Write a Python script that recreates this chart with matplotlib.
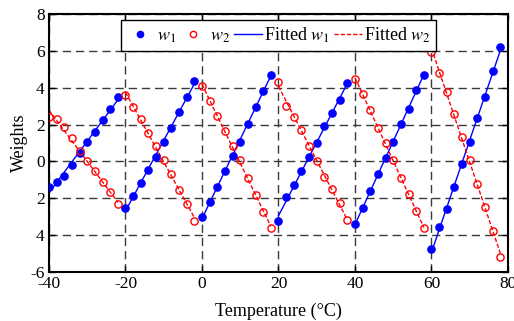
import numpy as np
import matplotlib
matplotlib.use('Agg')
import matplotlib.pyplot as plt
from matplotlib.legend_handler import HandlerLine2D

plt.rcParams['font.family'] = ['Liberation Serif', 'DejaVu Serif']
plt.rcParams['mathtext.fontset'] = 'stix'
plt.rcParams['axes.unicode_minus'] = False

# 資料 (每段 20°C, 每 2°C 一點)
temp = np.arange(-40, 80, 2)
w1 = [-1.37, -1.13, -0.77, -0.21, 0.45, 1.05, 1.60, 2.25, 2.83, 3.48,
      -2.55, -1.86, -1.16, -0.47, 0.26, 1.04, 1.80, 2.70, 3.48, 4.36,
      -3.03, -2.22, -1.39, -0.52, 0.29, 1.05, 2.05, 2.94, 3.84, 4.71,
      -3.22, -1.93, -1.30, -0.52, 0.26, 1.01, 1.92, 2.63, 3.33, 4.24,
      -3.40, -2.55, -1.61, -0.70, 0.17, 1.07, 2.03, 2.86, 3.86, 4.71,
      -4.77, -3.58, -2.60, -1.41, -0.16, 1.04, 2.34, 3.51, 4.89, 6.19]
w2 = [2.43, 2.28, 1.87, 1.29, 0.58, 0.04, -0.54, -1.14, -1.68, -2.33,
      3.59, 2.94, 2.28, 1.54, 0.84, 0.10, -0.68, -1.55, -2.33, -3.22,
      4.09, 3.29, 2.46, 1.65, 0.84, 0.08, -0.92, -1.82, -2.75, -3.61,
      4.33, 3.00, 2.43, 1.70, 0.85, 0.04, -0.83, -1.51, -2.27, -3.20,
      4.47, 3.66, 2.79, 1.83, 0.98, 0.06, -0.92, -1.79, -2.69, -3.60,
      5.92, 4.78, 3.78, 2.57, 1.34, 0.10, -1.23, -2.49, -3.79, -5.20]
seg_len = 10
xticks = [-40, -20, 0, 20, 40, 60, 80]
yticks = [8, 6, 4, 2, 0, -2, -4, -6]
ytick_labels = ['8', '6', '4', '2', '0', '2', '4', '-6']

w1 = np.array(w1)
w2 = np.array(w2)


# 圖例中的點靠近文字
class MarkerNearText(HandlerLine2D):
    def get_xdata(self, legend, xdescent, ydescent, width, height, fontsize):
        xdata, _ = super().get_xdata(legend, xdescent, ydescent, width, height, fontsize)
        return xdata, np.array([0.64 * width - xdescent])


fig = plt.figure(figsize=(5.14, 3.21), dpi=100)
ax = fig.add_axes([0.0953, 0.153, 0.893, 0.803])

# 每段線性擬合
dash = (0, (3, 1.5))
for i in range(0, len(temp), seg_len):
    t = temp[i:i + seg_len]
    p1 = np.polyfit(t, w1[i:i + seg_len], 1)
    p2 = np.polyfit(t, w2[i:i + seg_len], 1)
    ax.plot(t, np.polyval(p1, t), color='blue', lw=1.0, zorder=2)
    ax.plot(t, np.polyval(p2, t), color='red', lw=1.0, ls=dash, zorder=2)

ax.plot(temp, w1, 'o', color='blue', ms=5.2, zorder=3)
ax.plot(temp, w2, 'o', mfc='none', mec='red', mew=1.0, ms=5.2, zorder=3)

# 圖例
h1, = ax.plot([], [], 'o', color='blue', ms=4.5)
h2, = ax.plot([], [], 'o', mfc='none', mec='red', mew=1.0, ms=4.5)
h3, = ax.plot([], [], color='blue', lw=1.0)
h4, = ax.plot([], [], color='red', lw=1.0, ls=dash)
leg = ax.legend([h1, h2, h3, h4], ['$w_1$', '$w_2$', 'Fitted $w_1$', 'Fitted $w_2$'],
                handler_map={h1: MarkerNearText(), h2: MarkerNearText()},
                loc='upper center', bbox_to_anchor=(0.5, 0.99), ncol=4,
                fancybox=False, framealpha=1, edgecolor='black', fontsize=13,
                handlelength=1.55, handletextpad=0.15, columnspacing=0.2,
                borderpad=0.3, borderaxespad=0.2)
leg.get_frame().set_linewidth(1.0)

ax.set_xlim(-40, 80)
ax.set_ylim(-6, 8)
ax.set_xticks(xticks)
ax.set_yticks(yticks)
ax.set_yticklabels(ytick_labels)
ax.tick_params(direction='in', top=True, right=True, labelsize=12.5, length=4, width=1, pad=3)
ax.grid(True, color='#3a3a3a', ls=(0, (6, 3.5)), lw=1.0)
for s in ax.spines.values():
    s.set_linewidth(1.5)
ax.set_xlabel('Temperature (°C)', fontsize=13, labelpad=8)
ax.set_ylabel('Weights', fontsize=13, labelpad=2)

fig.savefig('out.png', dpi=100)
